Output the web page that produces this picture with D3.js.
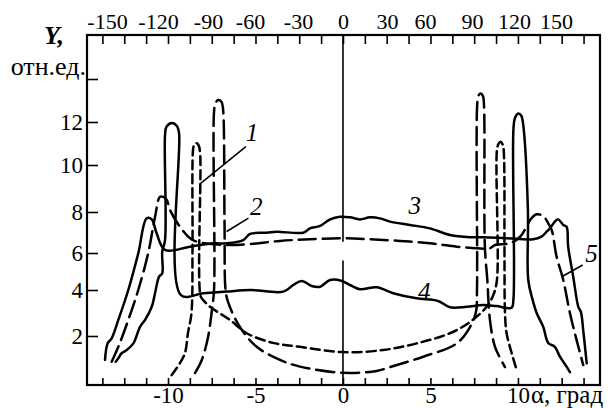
<!DOCTYPE html>
<html>
<head>
<meta charset="utf-8">
<script src="https://cdn.jsdelivr.net/npm/d3@7"></script>
<style>
  body { margin: 0; background: #fff; }
</style>
</head>
<body>
<div id="chart"></div>
<script>
// Data: alpha (deg) vs Y (rel. units)

const xLabels = [-10, -5, 0, 5, 10];
const yLabels = [2, 4, 6, 8, 10, 12];
const yTickValues = [2, 4, 6, 8, 10, 12, 14];
const topLabels = [-150, -120, -90, -60, -30, 0, 30, 60, 90, 120, 150];

// curve 1: short dashes, peaks ~11 and the upper bowl
const curve1 = [
  [-9.79, 0.30], [-9.31, 0.83], [-9.03, 1.26], [-8.86, 2.13], [-8.66, 3.0],
  [-8.6, 6.15], [-8.57, 10.7], [-8.51, 10.93], [-8.4, 11.02], [-8.26, 10.93],
  [-8.17, 10.6], [-8.14, 3.74], [-8.0, 3.57], [-7.6, 3.27], [-6.46, 2.70],
  [-5.5, 2.12], [-4.0, 1.70], [-2.46, 1.53], [-0.06, 1.30], [2.3, 1.39],
  [4.21, 1.68], [6.11, 2.12], [7.26, 2.61], [8.21, 3.27], [8.6, 3.8],
  [8.8, 4.54], [8.8, 10.7], [8.89, 10.98], [9.0, 11.08], [9.14, 10.93],
  [9.2, 10.47], [9.23, 6.15], [9.26, 3.0], [9.35, 2.13], [9.64, 1.26], [9.93, 0.52]
];

// curve 2: long dashes, peaks ~13 and the lower bowl
const curve2 = [
  [-8.46, 0.39], [-8.07, 0.96], [-7.71, 1.96], [-7.49, 3.13], [-7.37, 4.0],
  [-7.37, 12.47], [-7.29, 12.88], [-7.13, 13.02], [-6.94, 12.93], [-6.86, 12.65],
  [-6.77, 7.5], [-6.71, 4.0], [-6.57, 3.48], [-5.89, 2.39], [-4.93, 1.53],
  [-3.6, 0.96], [-2.46, 0.67], [0, 0.40], [1.93, 0.48], [2.69, 0.65],
  [4.59, 1.10], [6.5, 1.68], [7.26, 2.39], [7.6, 3.04], [7.66, 4.0],
  [7.67, 12.79], [7.74, 13.21], [7.87, 13.33], [8.0, 13.21], [8.06, 12.79],
  [8.11, 6.31], [8.25, 4.54], [8.4, 2.70], [8.69, 1.53], [9.26, 0.65]
];

// curve 3: solid, upper plateau with the outer wedges
const curve3 = [
  [-13.6, 0.96], [-13.45, 1.68], [-13.22, 1.9], [-12.84, 2.70], [-12.27, 4.0],
  [-11.7, 5.98], [-11.22, 7.69], [-10.93, 7.64], [-10.65, 6.96], [-10.17, 6.15],
  [-8.74, 6.31], [-7.41, 6.47], [-6.65, 6.47], [-5.7, 6.63], [-5.31, 6.93],
  [-4.36, 6.99], [-3.79, 7.04], [-2.27, 6.99], [-1.89, 7.2], [-1.31, 7.32],
  [-0.74, 7.64], [-0.17, 7.77], [0.4, 7.74], [0.97, 7.64], [1.54, 7.74],
  [2.11, 7.69], [2.69, 7.53], [3.83, 7.37], [4.97, 7.2], [6.11, 6.88],
  [7.26, 6.77], [8.02, 6.77], [9.35, 6.72], [10.87, 6.67], [11.35, 6.8],
  [11.64, 7.04], [11.83, 7.2], [12.11, 7.53], [12.3, 7.64], [12.59, 7.37],
  [12.78, 7.28], [12.87, 6.31], [13.16, 4.72], [13.45, 3.27], [13.6, 3.04],
  [13.73, 2.26], [13.93, 0.81]
];

// curve 4: solid, lower plateau with the tall peaks ~12
const curve4 = [
  [-12.99, 0.88], [-12.84, 1.03], [-12.65, 1.25], [-12.36, 1.39], [-11.98, 1.68],
  [-11.6, 2.40], [-11.31, 2.70], [-10.93, 3.27], [-10.74, 3.87], [-10.51, 4.72],
  [-10.33, 4.90], [-10.33, 6.06], [-10.17, 6.63], [-10.17, 11.40], [-10.09, 11.77],
  [-9.79, 11.95], [-9.49, 11.81], [-9.37, 11.49], [-9.26, 3.78], [-7.98, 3.86],
  [-6.65, 3.93], [-5.31, 4.0], [-3.41, 3.93], [-2.84, 4.27], [-2.36, 4.49],
  [-1.79, 4.22], [-1.31, 4.18], [-0.74, 4.54], [-0.06, 4.49], [0.4, 4.27],
  [0.97, 4.04], [1.93, 4.15], [2.87, 3.86], [4.21, 3.64], [5.16, 3.57],
  [5.54, 3.49], [6.11, 3.25], [7.07, 3.27], [8.02, 3.35], [8.78, 3.30],
  [9.64, 3.23], [9.74, 3.57], [9.74, 11.63], [9.83, 12.19], [10.02, 12.40],
  [10.2, 12.28], [10.29, 11.95], [10.57, 8.09], [10.59, 4.54], [10.84, 3.57],
  [11.07, 3.0], [11.45, 2.39], [11.73, 1.70], [12.11, 1.53], [12.4, 1.10],
  [12.78, 0.67], [12.97, 0.43]
];

// curve 5: dashed, middle plateau with the inner wedges
const curve5 = [
  [-13.22, 0.88], [-12.84, 1.53], [-12.27, 2.70], [-11.7, 4.0], [-11.13, 6.0],
  [-10.74, 7.77], [-10.46, 8.65], [-10.27, 8.64], [-10.07, 8.51], [-9.89, 8.09],
  [-9.31, 7.28], [-8.57, 6.63], [-6.65, 6.39], [-5.31, 6.44], [-3.6, 6.59],
  [-1.89, 6.67], [-0.06, 6.72], [1.54, 6.67], [3.26, 6.59], [4.97, 6.47],
  [6.5, 6.31], [7.64, 6.23], [8.4, 6.23], [8.69, 6.39], [9.54, 6.47],
  [10.11, 6.78], [10.49, 7.28], [10.74, 7.66], [11.07, 7.89], [11.45, 7.8],
  [11.73, 7.45], [11.93, 7.12], [12.21, 5.8], [12.59, 4.54], [12.97, 3.0],
  [13.35, 1.83], [13.73, 0.74]
];

// curve number labels and where their leader lines touch the curves
const curveLabels = [
  { text: "1", at: [-5.2, 11.1], lead: [[-5.55, 10.85], [-8.17, 9.2]] },
  { text: "2", at: [-4.95, 7.85], lead: [[-5.4, 7.7], [-6.65, 7.05]] },
  { text: "3", at: [4.1, 7.9] },
  { text: "4", at: [4.65, 3.55] },
  { text: "5", at: [14.2, 5.5], lead: [[13.7, 5.35], [12.5, 4.72]] }
];

const width = 616;
const height = 408;
const serif = '"Liberation Serif"';

const svg = d3.select("#chart")
  .append("svg")
  .attr("width", width)
  .attr("height", height);

// scales: the hand-drawn axes are not quite even, so Y and the top labels are calibrated piecewise
const x = d3.scaleLinear().domain([-14.63, 14.69]).range([87, 600]);
const y = d3.scaleLinear()
  .domain([-0.13, 2, 4, 6, 8, 10, 12, 14, 16.05])
  .range([385, 336, 290, 253, 212, 165, 122, 79, 35]);
const xTop = d3.scaleLinear()
  .domain(topLabels)
  .range([107, 158, 208, 250, 298, 343, 387, 425, 472, 514, 556]);

const [x0, x1] = x.range();
const yBottom = y(-0.13), yTop = y(16.05);

function styleAxis(g, size) {
  g.select(".domain").remove();
  g.attr("font-family", null);
  g.selectAll(".tick line").attr("stroke", "#000").attr("stroke-width", 1.6);
  g.selectAll(".tick text")
    .style("font-family", serif)
    .style("font-size", size + "px")
    .attr("fill", "#000");
}

const minorTicks = d3.range(-13.75, 13.76, 1.25);

// bottom axis
svg.append("g")
  .attr("transform", `translate(0,${yBottom})`)
  .call(d3.axisBottom(x)
    .tickValues(minorTicks)
    .tickSizeInner(-7).tickSizeOuter(0).tickPadding(2)
    .tickFormat(d => xLabels.includes(d) ? String(d) : ""))
  .call(g => styleAxis(g, 23));

// top axis: ticks on the alpha grid, labels on their own scale
svg.append("g")
  .attr("transform", `translate(0,${yTop})`)
  .call(d3.axisTop(x)
    .tickValues(minorTicks)
    .tickSizeInner(-9).tickSizeOuter(0)
    .tickFormat(""))
  .call(g => styleAxis(g, 20));

svg.append("g")
  .attr("transform", `translate(0,${yTop})`)
  .call(d3.axisTop(xTop)
    .tickValues(topLabels)
    .tickSize(0).tickPadding(6)
    .tickFormat(d => String(d)))
  .call(g => styleAxis(g, 22));

// left axis
svg.append("g")
  .attr("transform", `translate(${x0},0)`)
  .call(d3.axisLeft(y)
    .tickValues(yTickValues)
    .tickSizeInner(-11).tickSizeOuter(0).tickPadding(4)
    .tickFormat(d => yLabels.includes(d) ? String(d) : ""))
  .call(g => styleAxis(g, 23));

// frame
svg.append("rect")
  .attr("x", x0).attr("y", yTop)
  .attr("width", x1 - x0).attr("height", yBottom - yTop)
  .attr("fill", "none").attr("stroke", "#000").attr("stroke-width", 2.2);

// centre line at alpha = 0, broken where it was in the figure
const centreSegments = [[16.05, 6.55], [5.6, -0.13]];
svg.selectAll("line.centre")
  .data(centreSegments)
  .join("line")
  .attr("class", "centre")
  .attr("x1", x(0)).attr("x2", x(0))
  .attr("y1", d => y(d[0])).attr("y2", d => y(d[1]))
  .attr("stroke", "#000").attr("stroke-width", 1.6);

// curves
const line = d3.line()
  .x(d => x(d[0]))
  .y(d => y(d[1]))
  .curve(d3.curveCatmullRom.alpha(0.5));

const series = [
  { data: curve1, dash: "9,5" },
  { data: curve2, dash: "18,7" },
  { data: curve3, dash: null },
  { data: curve4, dash: null },
  { data: curve5, dash: "17,7" }
];

svg.selectAll("path.curve")
  .data(series)
  .join("path")
  .attr("class", "curve")
  .attr("d", d => line(d.data))
  .attr("fill", "none")
  .attr("stroke", "#000")
  .attr("stroke-width", 2.5)
  .attr("stroke-linejoin", "round")
  .attr("stroke-linecap", "round")
  .attr("stroke-dasharray", d => d.dash);

// curve labels and leader lines
svg.selectAll("path.lead")
  .data(curveLabels.filter(d => d.lead))
  .join("path")
  .attr("class", "lead")
  .attr("d", d => d3.line().x(p => x(p[0])).y(p => y(p[1]))(d.lead))
  .attr("stroke", "#000")
  .attr("stroke-width", 1.6)
  .attr("fill", "none");

svg.selectAll("text.curve-label")
  .data(curveLabels)
  .join("text")
  .attr("class", "curve-label")
  .attr("x", d => x(d.at[0]))
  .attr("y", d => y(d.at[1]))
  .attr("text-anchor", "middle")
  .style("font-family", serif)
  .style("font-size", "25px")
  .style("font-style", "italic")
  .text(d => d.text);

// axis titles
svg.append("text")
  .attr("x", 64).attr("y", 44)
  .attr("text-anchor", "end")
  .style("font-family", serif)
  .style("font-size", "26px")
  .style("font-style", "italic")
  .style("font-weight", "bold")
  .text("Y,");

svg.append("text")
  .attr("x", 86).attr("y", 75)
  .attr("text-anchor", "end")
  .style("font-family", serif)
  .style("font-size", "26px")
  .text("отн.ед.");

svg.append("text")
  .attr("x", 531).attr("y", 403)
  .style("font-family", serif)
  .style("font-size", "25px")
  .text("α, град");
</script>
</body>
</html>
